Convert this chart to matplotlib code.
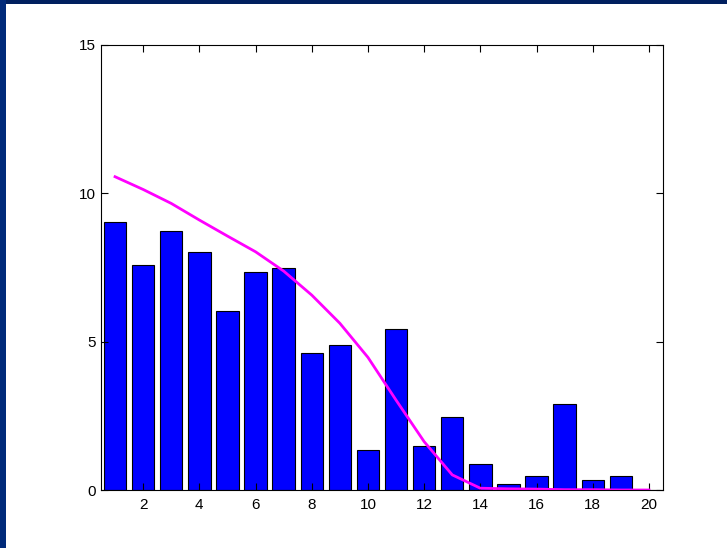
import matplotlib
matplotlib.use("Agg")
import matplotlib.pyplot as plt
from matplotlib.patches import Rectangle

# Data
bins = list(range(1, 21))
counts = [9.04, 7.59, 8.73, 8.03, 6.02, 7.34, 7.47, 4.63, 4.89, 1.34,
          5.44, 1.47, 2.46, 0.89, 0.19, 0.46, 2.91, 0.33, 0.46, 0.0]
fit = [10.56, 10.13, 9.66, 9.10, 8.56, 8.03, 7.38, 6.57, 5.62, 4.47,
       3.03, 1.63, 0.51, 0.06, 0.04, 0.03, 0.01, 0.01, 0.0, 0.0]
xticks = [2, 4, 6, 8, 10, 12, 14, 16, 18, 20]
yticks = [0, 5, 10, 15]

plt.rcParams['font.family'] = ['Liberation Sans', 'DejaVu Sans']

fig = plt.figure(figsize=(7.27, 5.48), dpi=100)
fig.patch.set_facecolor('white')

# dark blue slide border (top and left)
fig.patches.append(Rectangle((0, 1 - 4 / 548), 1, 4 / 548, transform=fig.transFigure,
                             facecolor='#00205f', edgecolor='none', zorder=0))
fig.patches.append(Rectangle((0, 0), 6 / 727, 1, transform=fig.transFigure,
                             facecolor='#002a7a', edgecolor='none', zorder=0))

ax = fig.add_axes([101 / 727, 1 - 490 / 548, (663 - 101) / 727, (490 - 45) / 548])

ax.bar(bins, counts, width=0.8, color='#0000ff', edgecolor='black', linewidth=0.8)
ax.plot(bins, fit, color='#ff00ff', linewidth=2)

ax.set_xlim(0.5, 20.5)
ax.set_ylim(0, 15)
ax.set_xticks(xticks)
ax.set_yticks(yticks)
ax.tick_params(direction='in', length=5, width=0.8, top=True, right=True,
               labelsize=11)
ax.tick_params(axis='x', pad=6)
ax.tick_params(axis='y', pad=4)
for s in ax.spines.values():
    s.set_linewidth(0.8)

fig.savefig('out.png', dpi=100)
